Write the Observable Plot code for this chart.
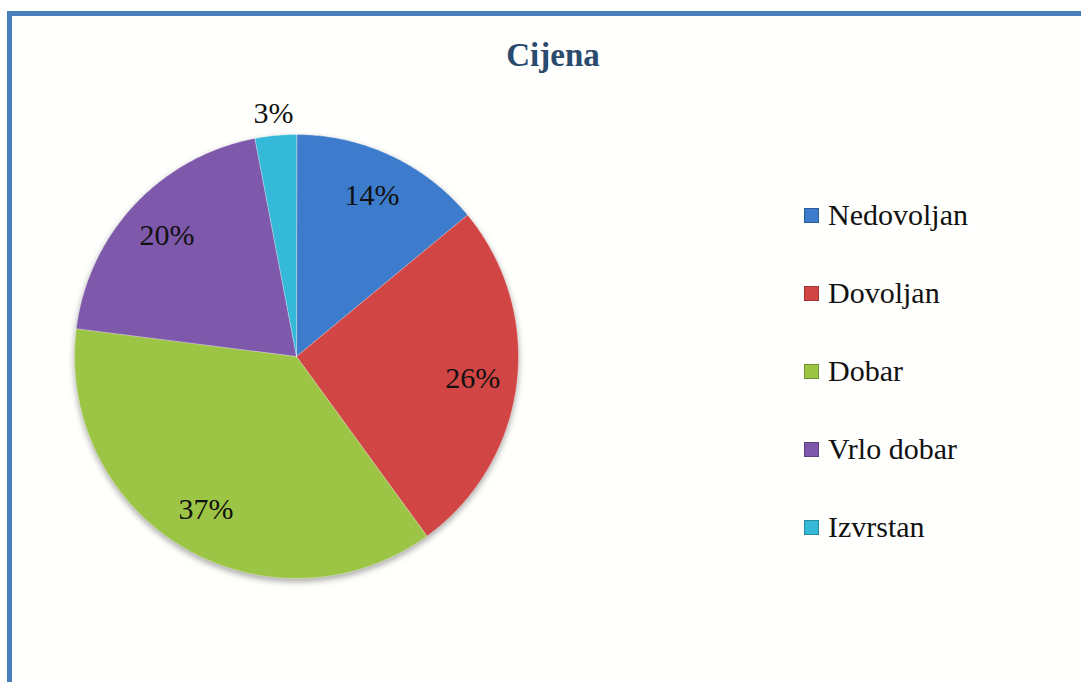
<!DOCTYPE html>
<html>
<head>
<meta charset="utf-8">
<script src="https://cdn.jsdelivr.net/npm/d3@7"></script>
<script src="https://cdn.jsdelivr.net/npm/@observablehq/plot@0.6"></script>
<style>
  html, body { margin: 0; padding: 0; background: #ffffff; }
  #wrap { position: relative; width: 1081px; height: 682px; overflow: hidden; background: #ffffff; }
  #frame { position: absolute; left: 7px; top: 11px; width: 1200px; height: 800px;
           border-left: 5px solid #4a7ebb; border-top: 5px solid #4a7ebb; background: #fffffd; }
  #title { position: absolute; left: 403px; width: 300px; top: 37px; text-align: center;
           font-family: "Times New Roman", "Liberation Serif", "DejaVu Serif", serif; font-weight: bold; font-size: 33px;
           color: #2a4a6e; line-height: normal; }
  #chart { position: absolute; left: 60px; top: 90px; }
  #legend { position: absolute; left: 804px; top: 176px; font-family: "Times New Roman", "Liberation Serif", "DejaVu Serif", serif; font-size: 30px; color: #111; }
  .item { display: flex; align-items: center; height: 78px; line-height: 78px; white-space: nowrap; }
  .sw { width: 15px; height: 15px; margin-right: 9px; box-sizing: border-box; border: 1px solid rgba(0,0,0,0.25); }
</style>
</head>
<body>
<div id="wrap">
  <div id="frame"></div>
  <div id="title"></div>
  <div id="chart"></div>
  <div id="legend"></div>
</div>
<script>
const title = "Cijena";
const categories = ["Nedovoljan", "Dovoljan", "Dobar", "Vrlo dobar", "Izvrstan"];
const values = [14, 26, 37, 20, 3];
const labels = ["14%", "26%", "37%", "20%", "3%"];
const colors = ["#3d7ccc", "#d24545", "#9dc545", "#7e58aa", "#35b9d8"];

document.getElementById("title").textContent = title;

const pie = d3.pie().sort(null).value(d => d.value);
const arcs = pie(categories.map((c, i) => ({category: c, value: values[i], label: labels[i]})));

const slicePts = [];
for (const a of arcs) {
  const c = a.data.category;
  slicePts.push({category: c, x: 0, y: 0});
  const n = Math.max(8, Math.ceil((a.endAngle - a.startAngle) / 0.01));
  for (let k = 0; k <= n; k++) {
    const t = a.startAngle + (a.endAngle - a.startAngle) * k / n;
    slicePts.push({category: c, x: Math.sin(t), y: Math.cos(t)});
  }
}
const labelPts = arcs.map(a => {
  const m = (a.startAngle + a.endAngle) / 2;
  const rr = a.data.value < 5 ? 1.1 : 0.8;
  return {category: a.data.category, label: a.data.label, x: rr * Math.sin(m), y: rr * Math.cos(m)};
});

const R = 222;
const W = 480, H = 510, cx = 236, cy = 266;
const chart = Plot.plot({
  width: W, height: H,
  marginLeft: cx - R, marginRight: W - (cx + R),
  marginTop: cy - R, marginBottom: H - (cy + R),
  x: {domain: [-1, 1], axis: null},
  y: {domain: [-1, 1], axis: null},
  color: {domain: categories, range: colors},
  style: {background: "transparent", overflow: "visible", fontFamily: "'Times New Roman', 'Liberation Serif', 'DejaVu Serif', serif"},
  marks: [
    Plot.line(slicePts, {x: "x", y: "y", z: "category", fill: "category", stroke: "#ffffff", strokeOpacity: 0.35, strokeWidth: 1, curve: "linear-closed"}),
    Plot.text(labelPts, {x: "x", y: "y", text: "label", fontSize: 30, fill: "#111"})
  ]
});
document.getElementById("chart").appendChild(chart);
const g = chart.querySelector('g[aria-label="line"]');
if (g) g.setAttribute("style", "filter: drop-shadow(0px 3px 3px rgba(0,0,0,0.35))");

const colorScale = chart.scale("color");
const legend = document.getElementById("legend");
categories.forEach(c => {
  const it = document.createElement("div");
  it.className = "item";
  const sw = document.createElement("span");
  sw.className = "sw";
  sw.style.background = colorScale.apply(c);
  const tx = document.createElement("span");
  tx.textContent = c;
  it.appendChild(sw); it.appendChild(tx);
  legend.appendChild(it);
});
</script>
</body>
</html>
